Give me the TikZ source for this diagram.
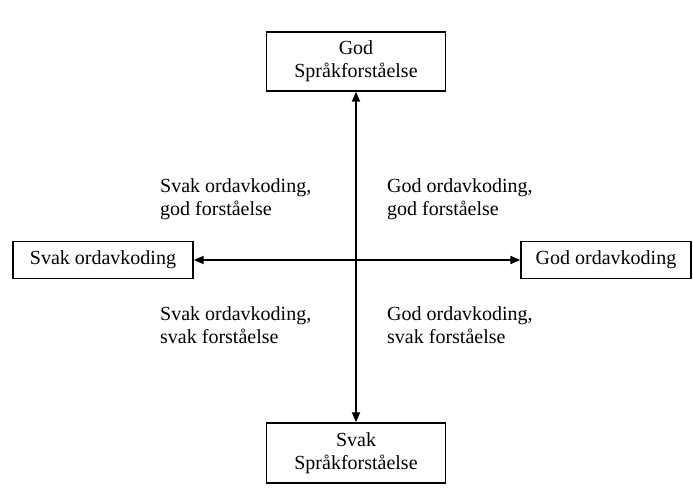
\documentclass[tikz,border=0pt]{standalone}
\usepackage{fontspec}
\setmainfont{Liberation Serif}
\usepackage{tikz}
\usetikzlibrary{positioning,arrows.meta}

\tikzset{
    box/.style={draw, line width=1.4pt, align=center, inner sep=0pt},
    quadtext/.style={align=left, inner sep=0pt, anchor=base west},
    axis/.style={line width=1.8pt, {Triangle[length=10pt,width=8pt]}-{Triangle[length=10pt,width=8pt]}}
}

\begin{document}
\begin{tikzpicture}[x=1pt,y=-1pt,font=\fontsize{20}{23}\selectfont]
    \useasboundingbox (0,0) rectangle (693,494);
    % boxes at the ends of the axes
    \node[box, minimum width=179pt, minimum height=59pt] (godspr) at (356,61.5) {God\\Språkforståelse};
    \node[box, minimum width=179pt, minimum height=60pt] (svakspr) at (356,453) {Svak\\Språkforståelse};
    \node[box, minimum width=180pt, minimum height=37pt] (svakord) at (103,260) {Svak ordavkoding};
    \node[box, minimum width=170pt, minimum height=37pt] (godord) at (606,260) {God ordavkoding};
    % axes
    \draw[axis] (svakord.east) -- (godord.west);
    \draw[axis] (godspr.south) -- (svakspr.north);
    % quadrants
    \node[quadtext] (q1) at (160,216) {Svak ordavkoding,\\god forståelse};
    \node[quadtext] (q2) at (387,216) {God ordavkoding,\\god forståelse};
    \node[quadtext] (q3) at (160,343) {Svak ordavkoding,\\svak forståelse};
    \node[quadtext] (q4) at (387,343) {God ordavkoding,\\svak forståelse};
\end{tikzpicture}
\end{document}
